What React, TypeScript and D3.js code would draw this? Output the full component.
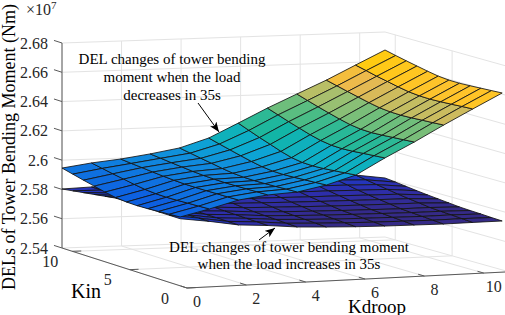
import React from 'react';
import * as d3 from 'd3';

const kGrid = [0, 0.99, 1.97, 2.96, 3.95, 4.93, 5.92, 6.9, 7.89, 8.88, 9.86, 10.85];
const kinGrid = [0.6, 1.54, 2.47, 3.41, 4.35, 5.28, 6.22, 7.15, 8.09, 9.03, 9.96, 10.9];

// rows follow kGrid, columns follow kinGrid
const upperZ = [
  [2.587, 2.5865, 2.5861, 2.5856, 2.5853, 2.5855, 2.5862, 2.5876, 2.5893, 2.591, 2.5928, 2.5946],
  [2.5915, 2.5911, 2.5908, 2.5904, 2.5902, 2.5903, 2.5909, 2.592, 2.5933, 2.5946, 2.596, 2.5974],
  [2.5966, 2.5964, 2.5963, 2.5961, 2.596, 2.596, 2.5963, 2.5968, 2.5974, 2.5981, 2.5987, 2.5994],
  [2.5991, 2.5989, 2.5987, 2.5985, 2.5984, 2.5985, 2.5988, 2.5993, 2.6, 2.6007, 2.6015, 2.6022],
  [2.6001, 2.5998, 2.5994, 2.5991, 2.5989, 2.599, 2.5995, 2.6005, 2.6018, 2.603, 2.6043, 2.6056],
  [2.6039, 2.6034, 2.603, 2.6025, 2.6022, 2.6023, 2.6031, 2.6045, 2.6062, 2.608, 2.6098, 2.6117],
  [2.6097, 2.609, 2.6083, 2.6076, 2.6072, 2.6074, 2.6085, 2.6106, 2.6132, 2.6157, 2.6184, 2.6212],
  [2.6204, 2.6198, 2.6192, 2.6185, 2.6181, 2.6183, 2.6194, 2.6212, 2.6235, 2.6258, 2.6283, 2.6308],
  [2.6303, 2.6297, 2.6292, 2.6286, 2.6282, 2.6284, 2.6294, 2.6311, 2.6331, 2.6352, 2.6374, 2.6397],
  [2.6409, 2.6404, 2.64, 2.6395, 2.6392, 2.6394, 2.6401, 2.6415, 2.6432, 2.6449, 2.6467, 2.6485],
  [2.6509, 2.6505, 2.65, 2.6496, 2.6493, 2.6495, 2.6502, 2.6515, 2.6531, 2.6546, 2.6564, 2.6581],
  [2.6608, 2.6604, 2.66, 2.6596, 2.6593, 2.6594, 2.6601, 2.6614, 2.6629, 2.6644, 2.666, 2.6677],
];

const lowerZ = [
  [2.5858, 2.5858, 2.5858, 2.5858, 2.5858, 2.5858, 2.5858, 2.5847, 2.5836, 2.5825, 2.5814, 2.5803],
  [2.583, 2.5829, 2.5828, 2.5827, 2.5826, 2.5824, 2.5822, 2.582, 2.5818, 2.5815, 2.5812, 2.581],
  [2.5796, 2.5797, 2.5798, 2.5799, 2.58, 2.5802, 2.5804, 2.5807, 2.5809, 2.5812, 2.5814, 2.5817],
  [2.5782, 2.5784, 2.5786, 2.5788, 2.579, 2.5794, 2.5798, 2.5803, 2.5807, 2.5813, 2.5818, 2.5823],
  [2.5762, 2.5765, 2.5769, 2.5772, 2.5776, 2.5782, 2.5789, 2.5796, 2.5804, 2.5813, 2.5822, 2.583],
  [2.5752, 2.5756, 2.576, 2.5764, 2.5768, 2.5777, 2.5785, 2.5793, 2.5803, 2.5814, 2.5824, 2.5834],
  [2.5744, 2.5749, 2.5753, 2.5758, 2.5763, 2.5772, 2.5781, 2.5791, 2.5802, 2.5814, 2.5826, 2.5837],
  [2.5739, 2.5744, 2.5749, 2.5754, 2.5759, 2.5768, 2.5778, 2.5788, 2.58, 2.5813, 2.5825, 2.5837],
  [2.5736, 2.5741, 2.5746, 2.5751, 2.5756, 2.5766, 2.5776, 2.5787, 2.5799, 2.5812, 2.5825, 2.5837],
  [2.5733, 2.5738, 2.5743, 2.5748, 2.5753, 2.5764, 2.5774, 2.5784, 2.5796, 2.581, 2.5823, 2.5835],
  [2.5734, 2.5739, 2.5744, 2.5748, 2.5753, 2.5763, 2.5772, 2.5782, 2.5794, 2.5806, 2.5818, 2.583],
  [2.5734, 2.5737, 2.5741, 2.5744, 2.5748, 2.5755, 2.5762, 2.5769, 2.5777, 2.5786, 2.5795, 2.5803],
];

const kTicks = [0, 2, 4, 6, 8, 10];
const kinTicks = [0, 5, 10];
const zTicks = [2.54, 2.56, 2.58, 2.6, 2.62, 2.64, 2.66, 2.68];

const colorStops = [2.575, 2.58, 2.584, 2.588, 2.595, 2.603, 2.611, 2.62, 2.63, 2.64, 2.645, 2.65, 2.655, 2.668];
const colorValues = ['#352a87', '#2c2fb0', '#1540d0', '#0d60e0', '#0f74e0', '#1090dc', '#0cacd0', '#12b6a4', '#4cbc84', '#a0c070', '#c8bc60', '#eab850', '#ffc428', '#ffd000'];

const upperNote = ['DEL changes of tower bending', 'moment when the load', 'decreases in 35s'];
const lowerNote = ['DEL changes of tower bending moment', 'when the load increases in 35s'];

const width = 505;
const height = 315;
const kMax = 10.85;
const kinMax = 10.9;
const zMin = 2.54;
const zMax = 2.68;

// floor corners of the 3D box, in pixels
const front = [187, 288];
const right = [509, 271.8];
const left = [62, 248];
const back = [385, 237];

const kScale = d3.scaleLinear().domain([0, kMax]).range([0, 1]);
const kinScale = d3.scaleLinear().domain([0, kinMax]).range([0, 1]);
const zScale = d3.scaleLinear().domain([zMin, zMax]).range([0, 205]);
const color = d3.scaleLinear<string>().domain(colorStops).range(colorValues).clamp(true);

function project(k: number, kin: number, z: number): [number, number] {
  const u = kScale(k);
  const v = kinScale(kin);
  const blend = (a: number) =>
    front[a] * (1 - u) * (1 - v) + right[a] * u * (1 - v) + left[a] * (1 - u) * v + back[a] * u * v;
  return [blend(0), blend(1) - zScale(z)];
}

const line = d3.line<[number, number]>();
const seg = (...pts: [number, number, number][]) => line(pts.map(p => project(p[0], p[1], p[2]))) as string;

function Surface({ zs }: { zs: number[][] }) {
  const cells: React.ReactElement[] = [];
  for (let j = kinGrid.length - 2; j >= 0; j--) {
    for (let i = 0; i < kGrid.length - 1; i++) {
      const c = [zs[i][j], zs[i + 1][j], zs[i + 1][j + 1], zs[i][j + 1]];
      const d = seg(
        [kGrid[i], kinGrid[j], c[0]],
        [kGrid[i + 1], kinGrid[j], c[1]],
        [kGrid[i + 1], kinGrid[j + 1], c[2]],
        [kGrid[i], kinGrid[j + 1], c[3]],
      ) + 'Z';
      cells.push(<path key={`${i}-${j}`} d={d} fill={color(d3.mean(c) as number)} stroke="#141414" strokeWidth={0.85} strokeLinejoin="round" />);
    }
  }
  return <g>{cells}</g>;
}

export default function App() {
  const gridColor = '#e3e3e3';
  const gridLines: string[] = [];
  kTicks.forEach(k => {
    gridLines.push(seg([k, 0, zMin], [k, kinMax, zMin], [k, kinMax, zMax]));
  });
  kinTicks.forEach(kin => {
    gridLines.push(seg([0, kin, zMin], [kMax, kin, zMin], [kMax, kin, zMax]));
  });
  zTicks.forEach(z => {
    gridLines.push(seg([0, kinMax, z], [kMax, kinMax, z], [kMax, 0, z]));
  });

  const axisColor = '#5a5a5a';
  const tickColor = '#262626';
  const serif = '"Liberation Serif", "Times New Roman", serif';

  return (
    <svg width={width} height={height} viewBox={`0 0 ${width} ${height}`}
      style={{ position: 'absolute', left: 0, top: 0, background: '#fff' }} fontFamily={serif}>
      <defs>
        <marker id="head" viewBox="0 0 10 8" refX="10" refY="4" markerWidth="10" markerHeight="8" markerUnits="userSpaceOnUse" orient="auto">
          <path d="M0,0L10,4L0,8L2.5,4Z" fill="#000" />
        </marker>
      </defs>

      <g fill="none" stroke={gridColor} strokeWidth={1}>
        {gridLines.map((d, i) => <path key={i} d={d} />)}
      </g>

      <g fill="none" stroke={axisColor} strokeWidth={1}>
        <path d={seg([0, kinMax, zMin], [0, kinMax, zMax])} />
        <path d={seg([0, kinMax, zMin], [0, 0, zMin], [kMax, 0, zMin])} />
        {zTicks.map(z => <path key={z} d={seg([0, kinMax, z], [0, kinMax + 0.7, z])} />)}
        {kTicks.map(k => <path key={k} d={seg([k, 0, zMin], [k, 0.55, zMin])} />)}
        {kinTicks.map(kin => <path key={kin} d={seg([0, kin, zMin], [0.3, kin, zMin])} />)}
      </g>

      <Surface zs={lowerZ} />
      <Surface zs={upperZ} />

      <g fontSize={16} fill={tickColor}>
        {zTicks.map(z => {
          const p = project(0, kinMax, z);
          return <text key={z} x={48} y={p[1]} textAnchor="end" dominantBaseline="central">{d3.format('.3~f')(z)}</text>;
        })}
        {kTicks.map(k => {
          const p = project(k, 0, zMin);
          return <text key={k} x={p[0] + 10} y={p[1] + 13.5} textAnchor="middle" dominantBaseline="central">{k}</text>;
        })}
        {kinTicks.map(kin => {
          const p = project(0, kin, zMin);
          return <text key={kin} x={p[0] - 22} y={p[1] + 10} textAnchor="middle" dominantBaseline="central">{kin}</text>;
        })}
      </g>

      <text x={26} y={15} fontSize={16} fill={tickColor}>{'\u00d710'}</text>
      <text x={51} y={8.5} fontSize={11} fill={tickColor}>7</text>

      <text transform="translate(15,147) rotate(-90)" fontSize={18} textAnchor="middle" fill="#000">DELs of Tower Bending Moment (Nm)</text>
      <text x={71} y={298} fontSize={20} fill="#000">Kin</text>
      <text x={348} y={312.5} fontSize={19} fill="#000">Kdroop</text>

      <g fontSize={15} fill="#000" textAnchor="middle">
        {upperNote.map((t, i) => <text key={t} x={172} y={[64, 82, 100][i]}>{t}</text>)}
        {lowerNote.map((t, i) => <text key={t} x={289} y={[252, 269][i]}>{t}</text>)}
      </g>

      <g stroke="#000" strokeWidth={1} fill="none">
        <line x1={198} y1={103} x2={219} y2={132} markerEnd="url(#head)" />
        <line x1={259} y1={240} x2={275} y2={228} markerEnd="url(#head)" />
      </g>
    </svg>
  );
}
